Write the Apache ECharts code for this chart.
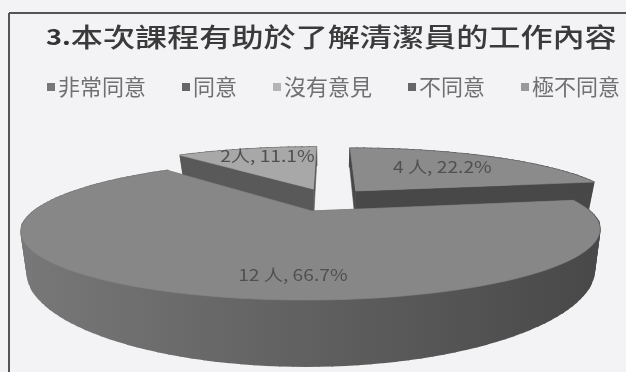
<!DOCTYPE html>
<html>
<head>
<meta charset="utf-8">
<style>html,body{margin:0;padding:0;background:#f3f3f6}#chart{width:626px;height:372px}</style>
<script src="https://cdn.jsdelivr.net/npm/echarts@6/dist/echarts.min.js"></script>
</head>
<body>
<div id="chart"></div>
<script>
// Survey answers, in the order the slices run clockwise from twelve o'clock
const titleNumber = '3.';
const titleText = '本次課程有助於了解清潔員的工作內容';
const categories = ['非常同意', '同意', '沒有意見', '不同意', '極不同意'];
const counts = [4, 12, 2, 0, 0];
const labelSpacers = [' ', ' ', '', '', ''];
const topColors = ['#8b8b8b', '#878787', '#a8a8a8', '#6e6e6e', '#9a9a9a'];
const wallColors = ['#484848', '#606060', '#595959', '#444444', '#555555'];
const legendColors = ['#777777', '#666666', '#b4b4b4', '#666666', '#999999'];
// Where each value label sits: direction (degrees clockwise from north) and share of the radius
const labelAngles = [38, 183, 343];
const labelRadii = [0.65, 0.78, 0.78];

// Camera used to project the tilted disc
const CX = 328, CY = 199.5, RX = 264, RY = 58, PERSPECTIVE = 0.265;
const EXPLODE_X = 0.17, EXPLODE_V = 0.2, THICKNESS = 31, BASE_SHRINK = 0.98;

const total = counts.reduce((a, b) => a + b, 0);
const rad = d => d * Math.PI / 180;

// Map a point on the disc to the screen; base=true gives the underside
function project(u, v, base) {
  const w = 1 - PERSPECTIVE * v;
  const shrink = base ? BASE_SHRINK : 1;
  const x = CX + RX * u / w * shrink;
  const y = CY + RY * v / w + (base ? THICKNESS / (w * w) : 0);
  return [x, y];
}

function sliceRange(i) {
  const before = counts.slice(0, i).reduce((a, b) => a + b, 0);
  return [before / total * 360, (before + counts[i]) / total * 360];
}

function disc(i, angle, r, base) {
  const [a0, a1] = sliceRange(i);
  const mid = rad((a0 + a1) / 2);
  const u = EXPLODE_X * Math.sin(mid) + r * Math.sin(rad(angle));
  const v = -EXPLODE_V * Math.cos(mid) - r * Math.cos(rad(angle));
  return project(u, v, base);
}

function arcAngles(i) {
  const [a0, a1] = sliceRange(i);
  const n = Math.max(2, Math.ceil((a1 - a0) / 2));
  return Array.from({length: n + 1}, (_, k) => a0 + (a1 - a0) * k / n);
}

// Outer wall of the large slice is lit from the left and falls off toward the right
const bigWallFill = {
  type: 'linear', global: true, x: 20, y: 0, x2: 600, y2: 0,
  colorStops: [{offset: 0, color: '#787878'}, {offset: 0.5, color: '#606060'}, {offset: 1, color: '#484848'}]
};

function renderSlice(params) {
  const i = params.seriesIndex;
  if (!counts[i]) return null;
  const angles = arcAngles(i);
  const rim = angles.map(a => disc(i, a, 1, false));
  const rimBase = angles.map(a => disc(i, a, 1, true));
  const apex = disc(i, 0, 0, false);
  const apexBase = disc(i, 0, 0, true);
  const wall = wallColors[i];
  const poly = (points, fill, width) => ({
    type: 'polygon', shape: {points},
    style: {fill, stroke: fill, lineWidth: width || 0.6}
  });
  const outerFill = i === 1 ? bigWallFill : wall;
  // A wider stroke closes the hairline seams between neighbouring wall segments
  const outerWall = rim.slice(1).map((p, k) =>
    poly([rim[k], p, rimBase[k + 1], rimBase[k]], outerFill, 1.6));
  const pct = (counts[i] / total * 100).toFixed(1);
  const pos = disc(i, labelAngles[i], labelRadii[i], false);
  return {
    type: 'group',
    children: [
      poly([apex, rim[0], rimBase[0], apexBase], wall),
      poly([apex, rim[rim.length - 1], rimBase[rimBase.length - 1], apexBase], wall),
      ...outerWall,
      poly([apex].concat(rim), topColors[i]),
      {
        type: 'text',
        x: pos[0], y: pos[1], scaleX: 1.2,
        style: {
          text: counts[i] + labelSpacers[i] + '人, ' + pct + '%',
          x: 0, y: 0, align: 'center', verticalAlign: 'middle',
          fill: '#505050', font: '16px "Noto Sans CJK TC"'
        }
      }
    ]
  };
}

const chart = echarts.init(document.getElementById('chart'), null, {renderer: 'canvas'});
chart.setOption({
  animation: false,
  backgroundColor: '#f3f3f6',
  graphic: [
    {type: 'line', shape: {x1: 9, y1: 13, x2: 626, y2: 13}, style: {stroke: '#555555', lineWidth: 2}},
    {type: 'line', shape: {x1: 9, y1: 13, x2: 9, y2: 372}, style: {stroke: '#555555', lineWidth: 2}},
    {
      type: 'text', x: 46, y: 37, scaleX: 1.235,
      style: {
        text: '{n|' + titleNumber + '}{t|' + titleText + '}',
        x: 0, y: 0, verticalAlign: 'middle',
        rich: {
          n: {fill: '#333333', font: '700 22px "Noto Sans CJK TC"'},
          t: {fill: '#3a3a3a', font: '500 26px "Noto Sans CJK TC"'}
        }
      }
    }
  ],
  legend: {
    left: 42, top: 71, icon: 'rect', itemWidth: 8, itemHeight: 8, itemGap: 36,
    textStyle: {color: '#707070', fontSize: 22, fontFamily: '"Noto Sans CJK TC"', padding: [0, 0, 0, -2]},
    data: categories
  },
  series: categories.map((name, i) => ({
    type: 'custom',
    name,
    coordinateSystem: 'none',
    renderItem: renderSlice,
    itemStyle: {color: legendColors[i]},
    data: [[counts[i]]],
    z: i === 1 ? 3 : 2
  }))
});
</script>
</body>
</html>
